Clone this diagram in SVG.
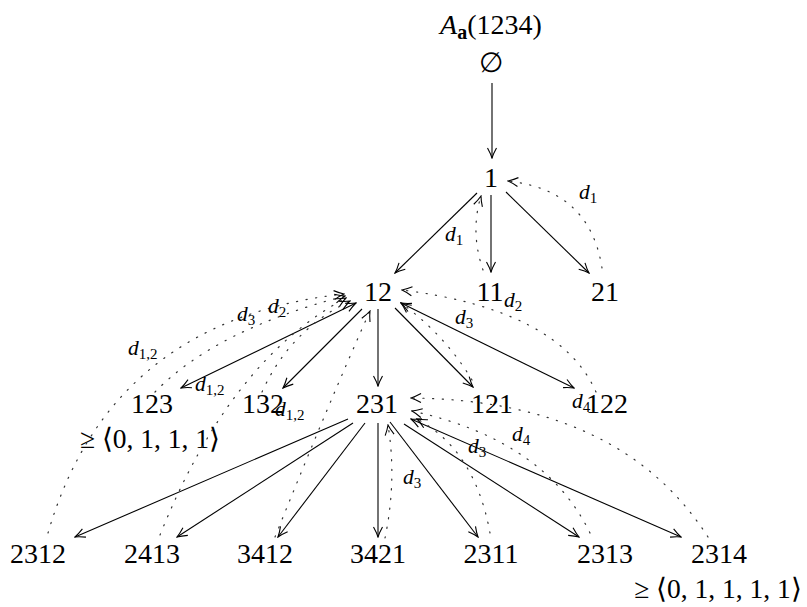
<svg xmlns="http://www.w3.org/2000/svg" width="807" height="607" viewBox="0 0 807 607">
<style>
text{font-family:'Liberation Serif','Times New Roman',serif;fill:#000}
.n{font-size:28px;text-anchor:middle}
.m{font-size:27.5px;text-anchor:middle}
.l{font-style:italic;font-size:21.5px}
.s{font-style:normal;font-size:15px}
.e{fill:none;stroke:#000;stroke-width:1.1;marker-end:url(#ah)}
.b{marker-start:url(#ah)}
.d{fill:none;stroke:#333;stroke-width:1.2;stroke-dasharray:1.2 8.5;stroke-linecap:round;marker-end:url(#ah)}
</style>
<defs>
<marker id="ah" viewBox="-11 -6 12 12" refX="0" refY="0" markerWidth="12" markerHeight="12" markerUnits="userSpaceOnUse" orient="auto-start-reverse">
<path d="M -10 -4.5 Q -4 -1.2 0 0 Q -4 1.2 -10 4.5" fill="none" stroke="#000" stroke-width="1.1" stroke-dasharray="none"/>
</marker>
</defs>

<g id="title"><text class="n" x="491" y="34" font-size="31"><tspan font-style="italic">A</tspan><tspan font-weight="bold" font-size="20" dy="5">a</tspan><tspan dy="-5">(1234)</tspan></text></g>
<g id="n-empty"><text class="n" x="491" y="72">∅</text></g>
<g id="n-1"><text class="n" x="491" y="187">1</text></g>
<g id="n-12"><text class="n" x="378" y="301">12</text></g>
<g id="n-11"><text class="n" x="490" y="301">11</text></g>
<g id="n-21"><text class="n" x="605" y="301">21</text></g>
<g id="n-123"><text class="n" x="152" y="413">123</text></g>
<g id="n-132"><text class="n" x="263" y="413">132</text></g>
<g id="n-231"><text class="n" x="377" y="413">231</text></g>
<g id="n-121"><text class="n" x="492" y="413">121</text></g>
<g id="n-122"><text class="n" x="607" y="413">122</text></g>
<g id="n-2312"><text class="n" x="38" y="563">2312</text></g>
<g id="n-2413"><text class="n" x="152" y="563">2413</text></g>
<g id="n-3412"><text class="n" x="265" y="563">3412</text></g>
<g id="n-3421"><text class="n" x="378" y="563">3421</text></g>
<g id="n-2311"><text class="n" x="491" y="563">2311</text></g>
<g id="n-2313"><text class="n" x="605" y="563">2313</text></g>
<g id="n-2314"><text class="n" x="719" y="563">2314</text></g>
<g id="bound-123"><text class="m" x="150" y="448">≥ ⟨0, 1, 1, 1⟩</text></g>
<g id="bound-2314"><text class="m" x="718" y="598">≥ ⟨0, 1, 1, 1, 1⟩</text></g>

<g id="connectors">
<path class="e" d="M492 83 L492 158"/>
<path class="e" d="M477 193 L395 273"/>
<path class="e" d="M491 195 L491 272"/>
<path class="e" d="M506 192 L589 273"/>
<path class="e b" d="M356 303 L181 388"/>
<path class="e" d="M362 309 L283 388"/>
<path class="e" d="M378 309 L378 386"/>
<path class="e" d="M395 308 L473 387"/>
<path class="e b" d="M401 303 L574 388"/>
<path class="e" d="M348 419 L75 537"/>
<path class="e" d="M353 423 L177 537"/>
<path class="e" d="M365 423 L278 537"/>
<path class="e" d="M378 423 L378 537"/>
<path class="e" d="M390 422 L478 537"/>
<path class="e" d="M404 424 L579 537"/>
<path class="e b" d="M411 419 L681 537"/>

<path class="d" d="M483 270 Q470 232 481 196"/>
<path class="d" d="M602 268 Q590 190 508 181"/>
<path class="d" d="M596 392 Q560 310 402 290"/>
<path class="d" d="M472 380 Q445 335 401 303"/>
<path class="d" d="M708 537 Q620 400 411 398"/>
<path class="d" d="M590 533 Q545 440 412 411"/>
<path class="d" d="M490 533 Q475 450 417 419"/>
<path class="d" d="M385 538 Q397 480 388 425"/>
<path class="d" d="M275 537 Q330 400 370 311"/>
<path class="d" d="M160 535 Q230 360 346 298"/>
<path class="d" d="M48 533 Q110 320 344 294"/>
<path class="d" d="M155 392 Q215 330 345 296"/>
<path class="d" d="M262 392 Q290 330 350 301"/>

<text class="l" x="445" y="241">d<tspan class="s" dy="4">1</tspan></text>
<text class="l" x="579" y="199">d<tspan class="s" dy="4">1</tspan></text>
<text class="l" x="504" y="307">d<tspan class="s" dy="4">2</tspan></text>
<text class="l" x="455" y="324">d<tspan class="s" dy="4">3</tspan></text>
<text class="l" x="237" y="321">d<tspan class="s" dy="4">3</tspan></text>
<text class="l" x="268" y="313">d<tspan class="s" dy="4">2</tspan></text>
<text class="l" x="128" y="355">d<tspan class="s" dy="4">1,2</tspan></text>
<text class="l" x="195" y="391">d<tspan class="s" dy="4">1,2</tspan></text>
<text class="l" x="275" y="416">d<tspan class="s" dy="4">1,2</tspan></text>
<text class="l" x="572" y="408">d<tspan class="s" dy="4">4</tspan></text>
<text class="l" x="512" y="441">d<tspan class="s" dy="4">4</tspan></text>
<text class="l" x="468" y="453">d<tspan class="s" dy="4">3</tspan></text>
<text class="l" x="403" y="484">d<tspan class="s" dy="4">3</tspan></text>
</g>
</svg>
